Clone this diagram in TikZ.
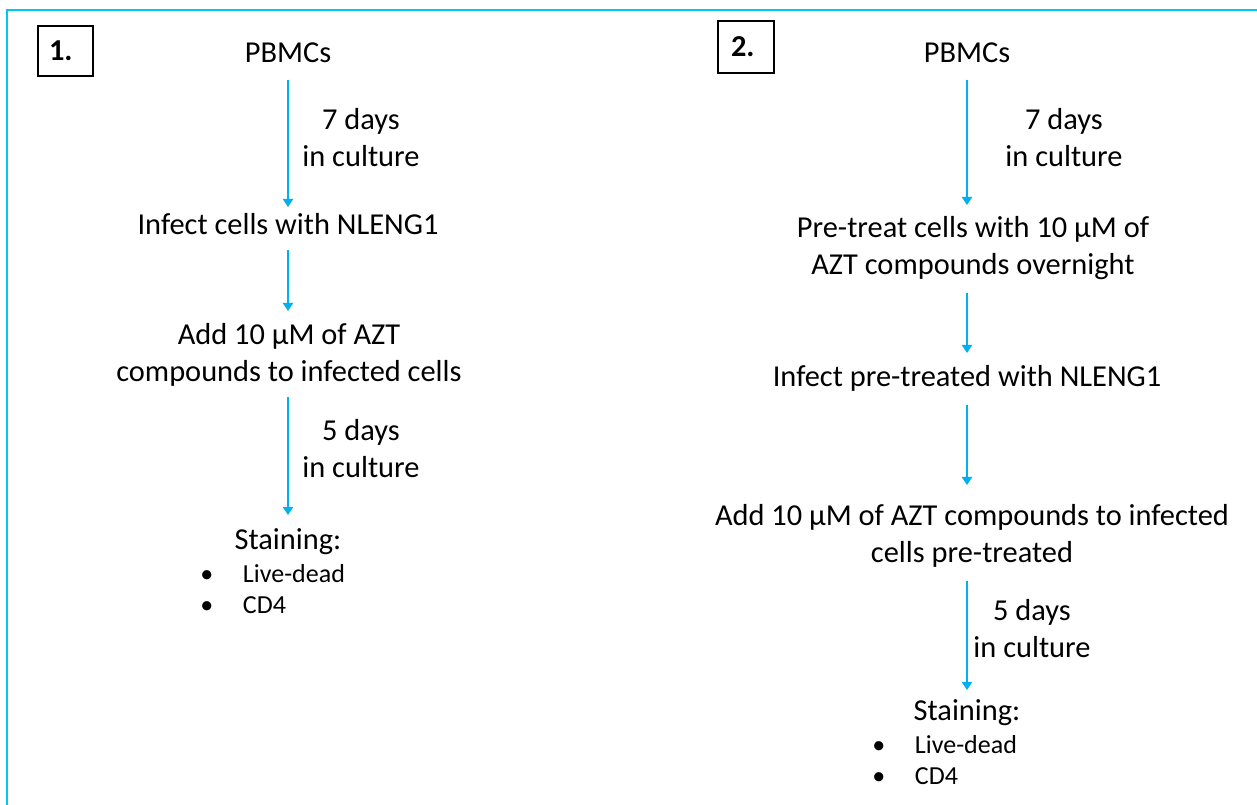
\documentclass[tikz,border=0pt]{standalone}
\usepackage{fontspec}
\setmainfont{Carlito}
\usetikzlibrary{arrows.meta,calc}
\definecolor{flowblue}{HTML}{00B0F0}
\definecolor{framecyan}{HTML}{00C8F5}
\newcommand{\stepfont}{\fontsize{22.8pt}{27.75pt}\selectfont}
\newcommand{\listfont}{\fontsize{19.5pt}{23.25pt}\selectfont}
\newcommand{\itembullet}{\makebox[32pt][l]{\textbullet}}

\begin{document}
\begin{tikzpicture}[
  x=0.75pt, y=-0.75pt,
  stage/.style={font=\stepfont, align=center, inner sep=0pt, anchor=base, text=black},
  numbox/.style={draw=black, line width=1.5pt, anchor=north west, font=\stepfont\bfseries,
    align=left, inner ysep=0pt, minimum height=37.5pt},
  itemlist/.style={font=\listfont, align=left, inner sep=0pt, anchor=base west, text=black},
  flow/.style={-{Triangle[length=6pt, width=7.5pt]}, draw=flowblue, line width=1.5pt},
  frame/.style={draw=framecyan, line width=1.5pt},
]
\useasboundingbox (0,0) rectangle (1257,805);

% ---- frame ----
\draw[frame] (7,805) -- (7,10) -- (1257,10);

% ---- protocol 1 ----
\node[numbox, inner xsep=8.25pt, text width=24.75pt] (boxA) at (37,25) {1.};

\node[stage] (pbmcA) at (288,63) {PBMCs};
\node[stage] (daysA) at (361,167) {7 days\\in culture};
\node[stage] (infectA) at (288,235) {Infect cells with NLENG1};
\node[stage] (addA) at (289,382) {Add 10 μM of AZT\\compounds to infected cells};
\node[stage] (daysA2) at (361,478) {5 days\\in culture};
\node[stage] (stainA) at (288,549) {Staining:};
\node[itemlist] (listA) at (200,613) {\itembullet Live-dead\\\itembullet CD4};

\draw[flow] ($(pbmcA.base)+(0,17)$) -- ($(pbmcA |- infectA.base)+(0,-28)$);
\draw[flow] ($(pbmcA |- infectA.base)+(0,15)$) -- ($(pbmcA |- addA.base)+(0,-71)$);
\draw[flow] ($(pbmcA |- addA.base)+(0,15)$) -- ($(pbmcA |- stainA.base)+(0,-34)$);

% ---- protocol 2 ----
\node[numbox, inner xsep=9.75pt, text width=22.5pt, minimum height=39pt] (boxB) at (717,20) {2.};

\node[stage] (pbmcB) at (967,63) {PBMCs};
\node[stage] (daysB) at (1064,167) {7 days\\in culture};
\node[stage] (pretreatB) at (973,275) {Pre-treat cells with 10 μM of\\AZT compounds overnight};
\node[stage] (infectB) at (967,387) {Infect pre-treated with NLENG1};
\node[stage] (addB) at (972,562) {Add 10 μM of AZT compounds to infected\\cells pre-treated};
\node[stage] (daysB2) at (1032,657) {5 days\\in culture};
\node[stage] (stainB) at (967,720) {Staining:};
\node[itemlist] (listB) at (872,784) {\itembullet Live-dead\\\itembullet CD4};

\draw[flow] ($(pbmcB.base)+(0,17)$) -- ($(pbmcB |- pretreatB.base)+(0,-70)$);
\draw[flow] ($(pbmcB |- pretreatB.base)+(0,18)$) -- ($(pbmcB |- infectB.base)+(0,-34)$);
\draw[flow] ($(pbmcB |- infectB.base)+(0,18)$) -- ($(pbmcB |- addB.base)+(0,-77)$);
\draw[flow] ($(pbmcB |- addB.base)+(0,19)$) -- ($(pbmcB |- stainB.base)+(0,-30)$);

\end{tikzpicture}
\end{document}
